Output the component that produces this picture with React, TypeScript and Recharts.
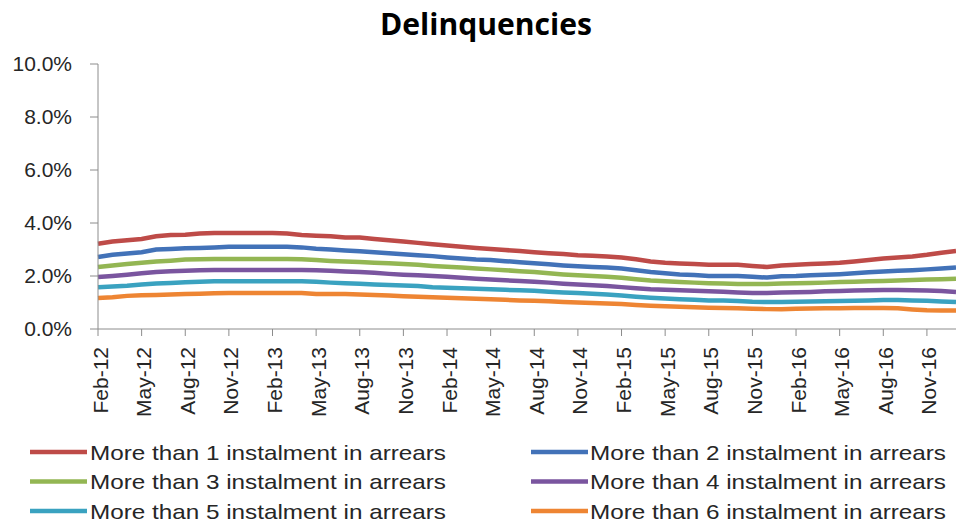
import React from 'react';
import { LineChart, Line, XAxis, YAxis, Legend } from 'recharts';

const months = [
  'Feb-12','Mar-12','Apr-12','May-12','Jun-12','Jul-12','Aug-12','Sep-12','Oct-12','Nov-12','Dec-12','Jan-13',
  'Feb-13','Mar-13','Apr-13','May-13','Jun-13','Jul-13','Aug-13','Sep-13','Oct-13','Nov-13','Dec-13','Jan-14',
  'Feb-14','Mar-14','Apr-14','May-14','Jun-14','Jul-14','Aug-14','Sep-14','Oct-14','Nov-14','Dec-14','Jan-15',
  'Feb-15','Mar-15','Apr-15','May-15','Jun-15','Jul-15','Aug-15','Sep-15','Oct-15','Nov-15','Dec-15','Jan-16',
  'Feb-16','Mar-16','Apr-16','May-16','Jun-16','Jul-16','Aug-16','Sep-16','Oct-16','Nov-16','Dec-16','Jan-17',
];

const arrears1 = [
  3.22,3.30,3.35,3.40,3.50,3.55,3.56,3.60,3.62,3.62,
  3.62,3.62,3.62,3.60,3.55,3.52,3.50,3.45,3.45,3.40,
  3.35,3.30,3.25,3.20,3.15,3.10,3.06,3.02,2.98,2.94,
  2.90,2.86,2.83,2.78,2.76,2.74,2.70,2.63,2.55,2.50,
  2.47,2.45,2.42,2.42,2.42,2.38,2.34,2.40,2.42,2.45,
  2.47,2.50,2.55,2.60,2.66,2.70,2.74,2.80,2.88,2.94,
];
const arrears2 = [
  2.72,2.80,2.85,2.90,3.00,3.02,3.05,3.06,3.08,3.10,
  3.10,3.10,3.10,3.10,3.08,3.03,3.00,2.96,2.93,2.90,
  2.86,2.82,2.78,2.75,2.70,2.66,2.62,2.60,2.56,2.52,
  2.48,2.44,2.40,2.37,2.34,2.32,2.28,2.22,2.15,2.10,
  2.06,2.04,2.00,2.00,2.00,1.97,1.94,1.99,2.00,2.03,
  2.05,2.07,2.10,2.14,2.17,2.20,2.22,2.25,2.28,2.32,
];
const arrears3 = [
  2.34,2.40,2.45,2.50,2.55,2.58,2.62,2.63,2.64,2.64,
  2.64,2.64,2.64,2.64,2.63,2.60,2.57,2.55,2.53,2.50,
  2.48,2.45,2.42,2.38,2.35,2.32,2.28,2.25,2.22,2.18,
  2.15,2.10,2.06,2.03,2.00,1.97,1.93,1.88,1.83,1.80,
  1.77,1.75,1.73,1.72,1.70,1.70,1.70,1.72,1.73,1.74,
  1.75,1.77,1.78,1.80,1.81,1.83,1.85,1.87,1.88,1.90,
];
const arrears4 = [
  1.96,2.00,2.05,2.10,2.15,2.18,2.20,2.22,2.23,2.23,
  2.23,2.23,2.23,2.23,2.23,2.22,2.20,2.17,2.15,2.12,
  2.08,2.05,2.03,2.00,1.97,1.93,1.90,1.87,1.84,1.81,
  1.78,1.75,1.71,1.68,1.65,1.62,1.58,1.54,1.50,1.48,
  1.46,1.44,1.42,1.41,1.38,1.36,1.36,1.38,1.39,1.40,
  1.42,1.43,1.45,1.46,1.47,1.47,1.46,1.45,1.43,1.40,
];
const arrears5 = [
  1.58,1.60,1.63,1.68,1.72,1.74,1.76,1.78,1.80,1.80,
  1.80,1.80,1.80,1.80,1.80,1.78,1.75,1.73,1.71,1.68,
  1.66,1.64,1.62,1.58,1.56,1.54,1.52,1.50,1.48,1.46,
  1.44,1.41,1.38,1.36,1.33,1.30,1.26,1.22,1.18,1.15,
  1.12,1.10,1.08,1.08,1.06,1.03,1.02,1.02,1.03,1.04,
  1.05,1.06,1.07,1.08,1.09,1.09,1.08,1.07,1.04,1.02,
];
const arrears6 = [
  1.17,1.20,1.25,1.27,1.28,1.30,1.32,1.33,1.35,1.36,
  1.36,1.36,1.36,1.36,1.36,1.32,1.32,1.32,1.30,1.28,
  1.26,1.24,1.22,1.20,1.18,1.16,1.14,1.12,1.10,1.08,
  1.07,1.05,1.02,1.00,0.98,0.96,0.94,0.91,0.88,0.86,
  0.84,0.82,0.80,0.79,0.78,0.76,0.75,0.75,0.76,0.77,
  0.78,0.78,0.79,0.79,0.79,0.78,0.74,0.71,0.70,0.70,
];

const yTicks = [0, 2, 4, 6, 8, 10];

const seriesNames = [
  'More than 1 instalment in arrears',
  'More than 2 instalment in arrears',
  'More than 3 instalment in arrears',
  'More than 4 instalment in arrears',
  'More than 5 instalment in arrears',
  'More than 6 instalment in arrears',
];
const seriesKeys = ['a1', 'a2', 'a3', 'a4', 'a5', 'a6'];
const seriesColors = ['#BE4B48', '#4272B8', '#93B653', '#7A559F', '#3AA2C0', '#EE8533'];
const seriesValues = [arrears1, arrears2, arrears3, arrears4, arrears5, arrears6];

const data = months.map((m, i) => {
  const row: Record<string, any> = { month: m };
  seriesKeys.forEach((k, s) => { row[k] = seriesValues[s][i]; });
  return row;
});

const FONT = "'Liberation Sans', Arial, sans-serif";

const XTick = (props: any) => {
  const { x, y, payload } = props;
  return (
    <text
      x={x}
      y={y}
      transform={`rotate(-90, ${x}, ${y})`}
      textAnchor="end"
      dominantBaseline="central"
      fontSize={21}
      fontFamily={FONT}
      fill="#262626"
      dy={2}
    >
      {payload.value}
    </text>
  );
};

const LegendContent = () => {
  const rows = [0, 1, 2];
  return (
    <svg width={956} height={94} style={{ display: 'block' }}>
      {rows.map((r) => (
        [0, 1].map((c) => {
          const idx = r * 2 + c;
          const y = 23 + r * 29.5;
          const lx = c === 0 ? 30 : 531;
          const tx = c === 0 ? 90 : 590;
          return (
            <g key={idx}>
              <line x1={lx} x2={lx + 57} y1={y} y2={y} stroke={seriesColors[idx]} strokeWidth={4.5} />
              <text
                x={tx}
                y={y}
                dominantBaseline="central"
                fontSize={21}
                fontFamily="'Liberation Sans Narrow', 'Liberation Sans', Arial, sans-serif"
                fill="#262626"
                textLength={356}
                lengthAdjust="spacingAndGlyphs"
              >
                {seriesNames[idx]}
              </text>
            </g>
          );
        })
      ))}
    </svg>
  );
};

export default function App() {
  return (
    <div style={{ position: 'absolute', left: 0, top: 0, width: 956, height: 523, background: '#fff' }}>
      <svg width={956} height={50} style={{ position: 'absolute', left: 0, top: 0 }}>
        <text
          x={486}
          y={35}
          textAnchor="middle"
          fontSize={30}
          fontWeight="bold"
          fontFamily="'Open Sans', sans-serif"
          fill="#000"
          textLength={212}
          lengthAdjust="spacingAndGlyphs"
        >
          Delinquencies
        </text>
      </svg>
      <LineChart
        width={956}
        height={523}
        data={data}
        margin={{ top: 64, right: 0, bottom: 0, left: 0 }}
      >
        <XAxis
          dataKey="month"
          interval={2}
          height={100}
          tickSize={7}
          tickMargin={11}
          tick={<XTick />}
          stroke="#8C8C8C"
          tickLine={{ stroke: '#8C8C8C' }}
          padding={{ left: 0, right: 0 }}
        />
        <YAxis
          domain={[0, 10]}
          ticks={yTicks}
          width={98}
          tickSize={8}
          tickMargin={18}
          tickFormatter={(v: number) => `${v.toFixed(1)}%`}
          tick={{ fontSize: 21, fontFamily: FONT, fill: '#262626' }}
          stroke="#8C8C8C"
          tickLine={{ stroke: '#8C8C8C' }}
          interval={0}
        />
        <Legend
          verticalAlign="bottom"
          align="left"
          height={94}
          wrapperStyle={{ left: 0, width: 956 }}
          content={<LegendContent />}
        />
        {seriesKeys.map((k, s) => (
          <Line
            key={k}
            type="linear"
            dataKey={k}
            name={seriesNames[s]}
            stroke={seriesColors[s]}
            strokeWidth={4.5}
            dot={false}
            isAnimationActive={false}
          />
        ))}
      </LineChart>
    </div>
  );
}
